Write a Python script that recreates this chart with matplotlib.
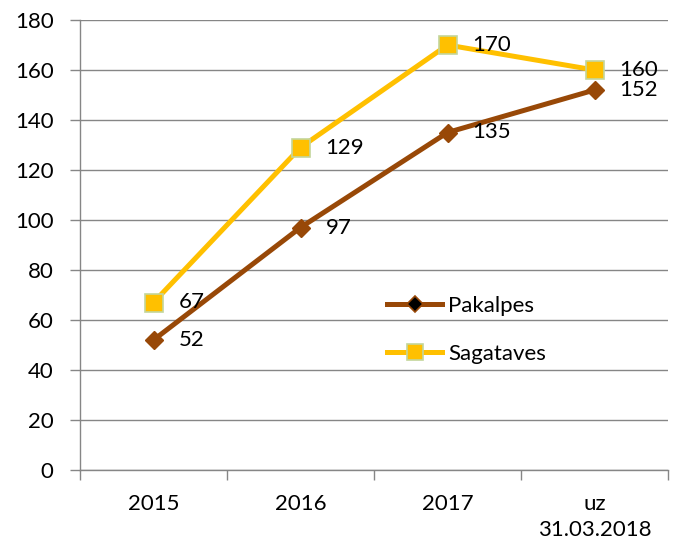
import matplotlib
matplotlib.use("Agg")
import matplotlib.pyplot as plt
from matplotlib.lines import Line2D

plt.rcParams['font.family'] = ['Lato', 'DejaVu Sans']

# data
categories = ['2015', '2016', '2017', 'uz\n31.03.2018']
pakalpes = [52, 97, 135, 152]
sagataves = [67, 129, 170, 160]

brown = '#984807'
gold = '#FFC000'
sq_edge = '#C3D69B'
grid_col = '#868686'
fs = 16

fig = plt.figure(figsize=(6.78, 5.46), dpi=100)
ax = fig.add_axes([80 / 678, 1 - 470 / 546, 588 / 678, 450 / 546])

x = range(len(categories))
ax.plot(x, pakalpes, color=brown, lw=3.6, marker='D', ms=9.5,
        mfc=brown, mec=brown, zorder=3)
ax.plot(x, sagataves, color=gold, lw=3.6, marker='s', ms=13.5,
        mfc=gold, mec=sq_edge, mew=1.2, zorder=3)

for xi, v in zip(x, pakalpes):
    ax.annotate(str(v), (xi, v), xytext=(18, 0), textcoords='offset points',
                ha='left', va='center', fontsize=fs, zorder=4)
for xi, v in zip(x, sagataves):
    ax.annotate(str(v), (xi, v), xytext=(18, 0), textcoords='offset points',
                ha='left', va='center', fontsize=fs, zorder=4)

ax.set_xlim(-0.5, len(categories) - 0.5)
ax.set_ylim(0, 180)
ax.set_yticks(range(0, 181, 20))
ax.set_xticks(list(x))
ax.set_xticklabels(categories, fontsize=fs, linespacing=1.4)
ax.set_xticks([i - 0.5 for i in range(len(categories) + 1)], minor=True)
ax.tick_params(axis='x', which='major', length=0, pad=17)
ax.tick_params(axis='x', which='minor', length=7, width=1, color=grid_col, direction='out')
ax.tick_params(axis='y', length=7, width=1, color=grid_col, pad=12, labelsize=fs)

ax.grid(axis='y', color=grid_col, lw=1.0)
ax.set_axisbelow(True)
for s in ['top', 'right']:
    ax.spines[s].set_visible(False)
for s in ['left', 'bottom']:
    ax.spines[s].set_color(grid_col)
    ax.spines[s].set_linewidth(1.0)

handles = [
    Line2D([], [], color=brown, lw=3.6, marker='D', ms=8, mfc='black', mec=brown, mew=1.2),
    Line2D([], [], color=gold, lw=3.6, marker='s', ms=12, mfc=gold, mec=sq_edge, mew=1.2),
]
ax.legend(handles, ['Pakalpes', 'Sagataves'], loc='center left',
          bbox_to_anchor=(0.522, 0.311), frameon=False, fontsize=fs,
          handlelength=2.5, handletextpad=0.25, labelspacing=1.25,
          borderpad=0, borderaxespad=0)

fig.savefig('out.png', dpi=100)
